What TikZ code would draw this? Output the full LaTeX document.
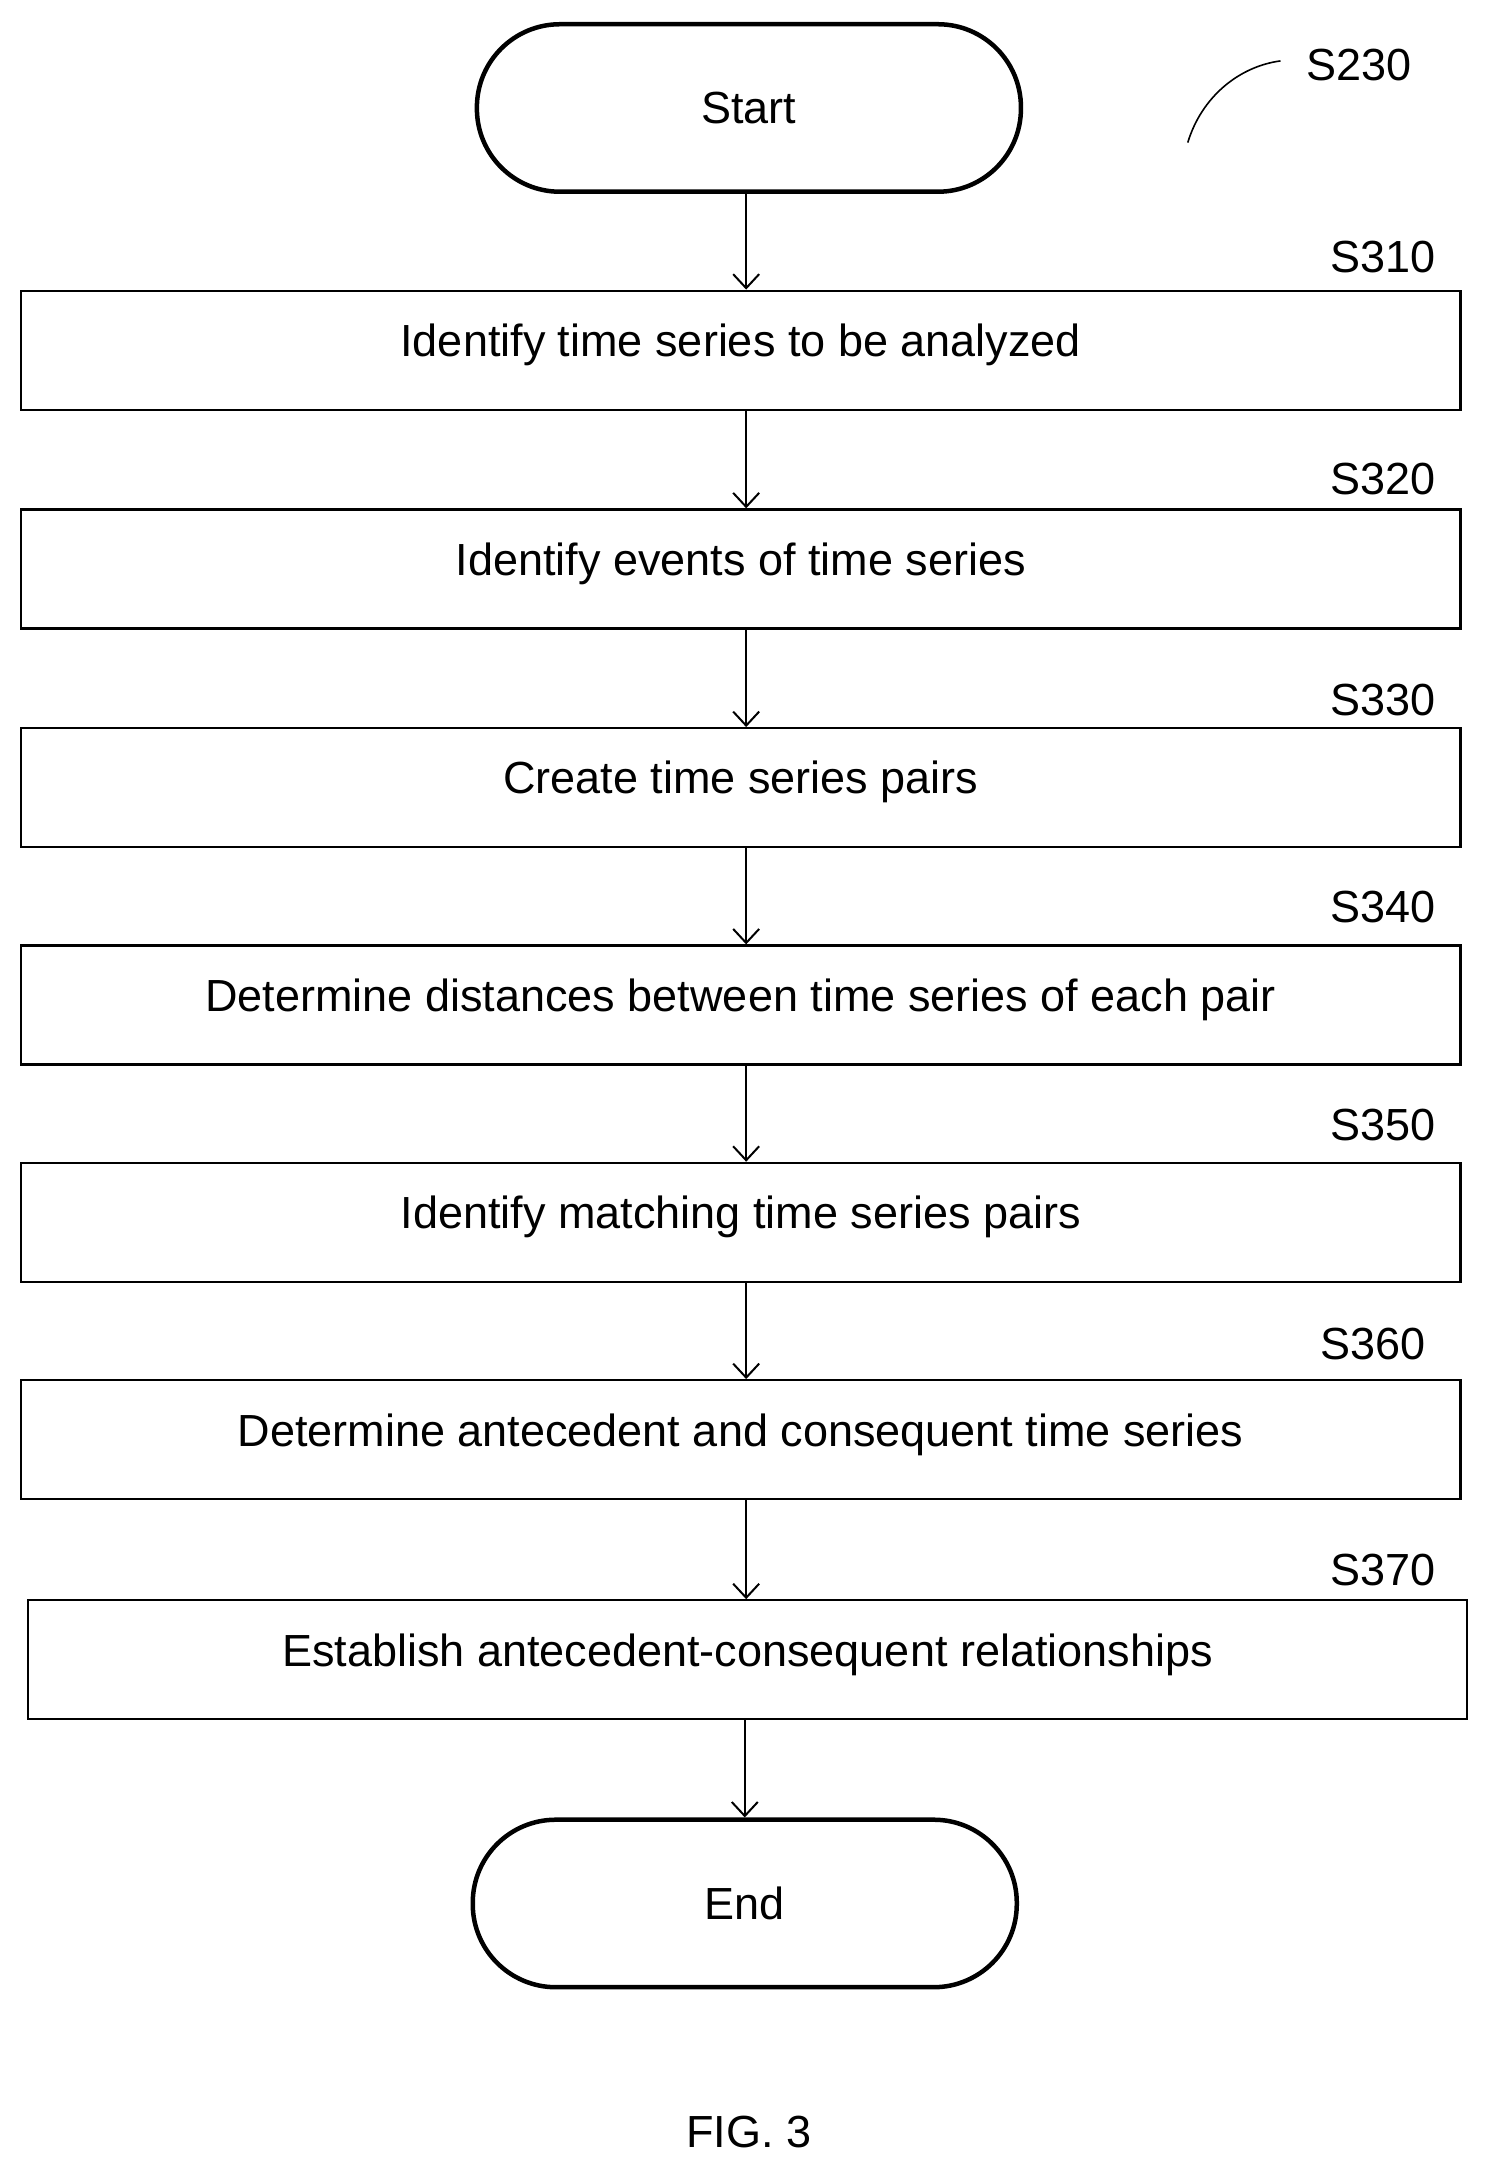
\documentclass[tikz,border=0pt]{standalone}
\usepackage{fontspec}
\setmainfont{Liberation Sans}
\usetikzlibrary{arrows.meta,positioning}

\tikzset{
  stepbox/.style={draw, line width=2.2pt, minimum width=1040*1.3844pt, minimum height=86*1.3844pt, inner sep=0pt},
  term/.style={draw, line width=4.5pt, rounded corners=60*1.3844pt, minimum width=393*1.3844pt, minimum height=121*1.3844pt},
  flow/.style={line width=2pt, -{Straight Barb[length=14pt,width=26pt]}},
  tag/.style={anchor=east, inner sep=0pt}
}

\begin{document}
\begin{tikzpicture}[x=1.3844pt, y=-1.3844pt, font=\fontsize{45}{54}\selectfont]
  \useasboundingbox (0,0) rectangle (1077,1569);

  % terminals
  \node[term] (start) at (541,78) {\raisebox{-8pt}{Start}};
  \node[term] (end) at (538,1375) {\raisebox{-3pt}{End}};

  % steps
  \node[stepbox] (s310) at (535,253) {\raisebox{20pt}{Identify time series to be analyzed}};
  \node[stepbox] (s320) at (535,411) {\raisebox{20pt}{Identify events of time series}};
  \node[stepbox] (s330) at (535,569) {\raisebox{20pt}{Create time series pairs}};
  \node[stepbox] (s340) at (535,726) {\raisebox{20pt}{Determine distances between time series of each pair}};
  \node[stepbox] (s350) at (535,883) {\raisebox{20pt}{Identify matching time series pairs}};
  \node[stepbox] (s360) at (535,1040) {\raisebox{20pt}{Determine antecedent and consequent time series}};
  \node[stepbox] (s370) at (540,1199) {\raisebox{20pt}{Establish antecedent-consequent relationships}};

  % step labels
  \node[tag] (l310) at (1037,186) {S310};
  \node[tag] (l320) at (1037,346) {S320};
  \node[tag] (l330) at (1037,506) {S330};
  \node[tag] (l340) at (1037,655) {S340};
  \node[tag] (l350) at (1037,813) {S350};
  \node[tag] (l360) at (1030,971) {S360};
  \node[tag] (l370) at (1037,1134) {S370};
  \node[tag] (l230) at (1020,47) {S230};
  \coordinate (c230) at (858,103);
  \draw[line width=1.6pt] (c230) .. controls (868,70) and (895,48) .. (925,44);

  % connectors
  \draw[flow] (start.south -| 539,0) -- (s310.north -| 539,0);
  \draw[flow] (s310.south -| 539,0) -- (s320.north -| 539,0);
  \draw[flow] (s320.south -| 539,0) -- (s330.north -| 539,0);
  \draw[flow] (s330.south -| 539,0) -- (s340.north -| 539,0);
  \draw[flow] (s340.south -| 539,0) -- (s350.north -| 539,0);
  \draw[flow] (s350.south -| 539,0) -- (s360.north -| 539,0);
  \draw[flow] (s360.south -| 539,0) -- (s370.north -| 539,0);
  \draw[flow] (s370.south -| 538,0) -- (end.north -| 538,0);

  \node (fig) at (541,1540) {FIG. 3};
\end{tikzpicture}
\end{document}
